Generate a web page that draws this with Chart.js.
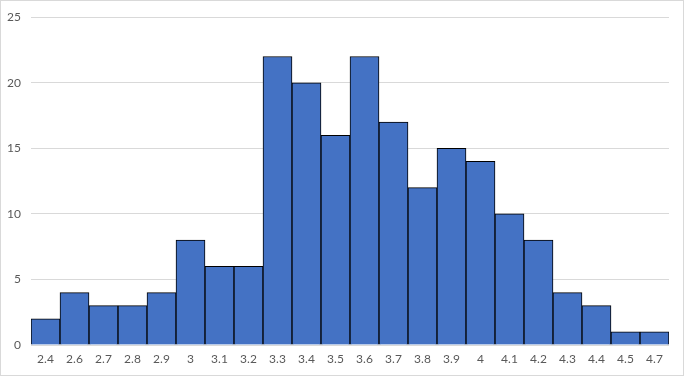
<!DOCTYPE html>
<html><head><meta charset="utf-8">
<script src="https://cdn.jsdelivr.net/npm/chart.js@4"></script>
<style>html,body{margin:0;padding:0;background:#fff}#wrap{width:685px;height:377px}</style>
</head><body><div id="wrap"><canvas id="c" width="685" height="377"></canvas></div>
<script>
const categories = ["2.4","2.6","2.7","2.8","2.9","3","3.1","3.2","3.3","3.4","3.5","3.6","3.7","3.8","3.9","4","4.1","4.2","4.3","4.4","4.5","4.7"];
const counts = [2,4,3,3,4,8,6,6,22,20,16,22,17,12,15,14,10,8,4,3,1,1];
const yTicks = [0,5,10,15,20,25];

const borderPlugin = {
  id: 'outerBorder',
  afterDraw(chart) {
    const ctx = chart.ctx;
    ctx.save();
    ctx.strokeStyle = '#d9d9d9';
    ctx.lineWidth = 1;
    ctx.strokeRect(0.5, 0.5, chart.width - 2, chart.height - 2);
    ctx.restore();
  }
};

new Chart(document.getElementById('c'), {
  type: 'bar',
  data: {
    labels: categories,
    datasets: [{
      data: counts,
      backgroundColor: '#4472C4',
      borderColor: '#000000',
      borderWidth: 1,
      barPercentage: 1,
      categoryPercentage: 1
    }]
  },
  options: {
    responsive: false,
    animation: false,
    layout: { padding: { top: 13, right: 16, left: 0, bottom: 0 } },
    plugins: { legend: { display: false }, tooltip: { enabled: false } },
    scales: {
      x: {
        grid: { display: false, drawTicks: false },
        border: { display: false },
        ticks: { color: '#595959', font: { family: 'Lato, "Open Sans", sans-serif', size: 12 }, padding: 7, maxRotation: 0, autoSkip: false },
        afterFit(s) { s.height = 32; }
      },
      y: {
        min: 0, max: 25,
        afterBuildTicks(s) { s.ticks = yTicks.map(v => ({ value: v })); },
        grid: { color: '#d9d9d9', drawTicks: false },
        border: { display: false },
        ticks: { color: '#595959', font: { family: 'Lato, "Open Sans", sans-serif', size: 12 }, padding: 10 },
        afterFit(s) { s.width = 31; }
      }
    }
  },
  plugins: [borderPlugin]
});
</script>
</body></html>
